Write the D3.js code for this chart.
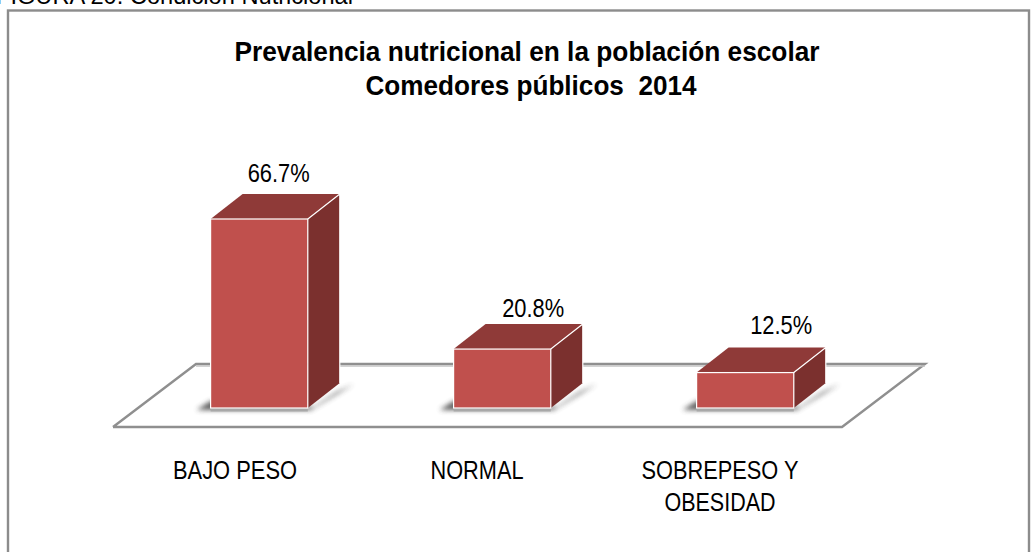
<!DOCTYPE html>
<html><head><meta charset="utf-8">
<script src="https://cdn.jsdelivr.net/npm/d3@7/dist/d3.min.js"></script>
<style>html,body{margin:0;padding:0;background:#fff;overflow:hidden}svg{display:block}text{font-family:"Liberation Sans",Arial,sans-serif;fill:#000}</style>
</head><body><svg id="c" width="1034" height="552"></svg>
<script>
const categories = ["BAJO PESO","NORMAL","SOBREPESO Y|OBESIDAD"];
const values = [66.7,20.8,12.5];
const valueLabels = ["66.7%","20.8%","12.5%"];
const titleLines = ["Prevalencia nutricional en la población escolar","Comedores públicos  2014"];
const caption = "FIGURA 20. Condición Nutricional";

const svg = d3.select("#c");
const x = d3.scaleBand().domain(categories).range([113.4,891]).paddingInner(0.6).paddingOuter(0.4);
const y = d3.scaleLinear().domain([0,66.7]).range([408,219]);
const dx=32, dy=-25;

svg.append("text").attr("x",-4).attr("y",4).attr("font-size",24).attr("textLength",357).attr("lengthAdjust","spacingAndGlyphs").text(caption);
svg.append("rect").attr("x",8).attr("y",10.5).attr("width",1021).attr("height",560).attr("fill","#fff").attr("stroke","#8c8c8c").attr("stroke-width",2.4);

const defs = svg.append("defs");
defs.append("filter").attr("id","blur").attr("x","-30%").attr("y","-100%").attr("width","160%").attr("height","300%")
  .append("feGaussianBlur").attr("stdDeviation",2.5);

const line = d3.line();
const fl = [[113,427],[842,427],[925,364],[196,364],[113,427]];
svg.append("path").attr("d",line(fl)).attr("fill","#fff").attr("stroke","#8f8f8f").attr("stroke-width",2.4);
svg.append("path").attr("d",line([[196,366],[925,366]])).attr("stroke","#c4c4c4").attr("stroke-width",1.5).attr("fill","none");

titleLines.forEach((t,i)=>svg.append("text").attr("x",i?531:527).attr("y",61+i*33.5).attr("text-anchor","middle")
  .attr("font-size",28).attr("font-weight","bold").attr("textLength",i?331:585).attr("lengthAdjust","spacingAndGlyphs").style("white-space","pre").text(t));

const g = svg.selectAll("g.bar").data(categories.map((c,i)=>({c,v:values[i],l:valueLabels[i]}))).join("g").attr("class","bar");
const base = y(0);
g.each(function(d){
  const s=d3.select(this), x0=x(d.c), x1=x0+x.bandwidth(), t=y(d.v);
  s.append("path").attr("d",line([[x0-14,base+2],[x1+3,base+2],[x1+dx+14,base+dy+1],[x1+dx-3,base+dy+9],[x1+6,base-1],[x0,base-7]])).attr("fill","#4e4e4e").attr("opacity",.9).attr("filter","url(#blur)");
  s.append("path").attr("d",line([[x0,base+2],[x1,base+2]])).attr("stroke","#a8a8a8").attr("stroke-width",3);
  s.append("path").attr("d",line([[x0,t],[x1,t],[x1+dx,t+dy],[x0+dx,t+dy]])+"Z").attr("fill","#8f3a38");
  s.append("path").attr("d",line([[x1,t],[x1+dx,t+dy],[x1+dx,base+dy],[x1,base]])+"Z").attr("fill","#7b302e");
  s.append("rect").attr("x",x0).attr("y",t).attr("width",x1-x0).attr("height",base-t).attr("fill","#c0504d").attr("stroke","#fff").attr("stroke-width",1.2);
  s.append("path").attr("d",line([[x1,t],[x1+dx,t+dy],[x1+dx,base+dy]])).attr("fill","none").attr("stroke","#fff").attr("stroke-width",1.2);
});
g.append("text").attr("x",(d,i)=>x(d.c)+x.bandwidth()/2+[19.5,31,36][i]).attr("y",(d,i)=>y(d.v)+[-37,-32,-39][i])
  .attr("text-anchor","middle").attr("font-size",25).attr("textLength",62).attr("lengthAdjust","spacingAndGlyphs").text(d=>d.l);

const px=[235,477,720];
categories.forEach((c,i)=>c.split("|").forEach((t,j)=>svg.append("text").attr("x",px[i]).attr("y",479+j*31.5).attr("text-anchor","middle").attr("font-size",25).attr("textLength",{0:124,1:93,2:j?111:157}[i]).attr("lengthAdjust","spacingAndGlyphs").text(t)));
</script></body></html>
